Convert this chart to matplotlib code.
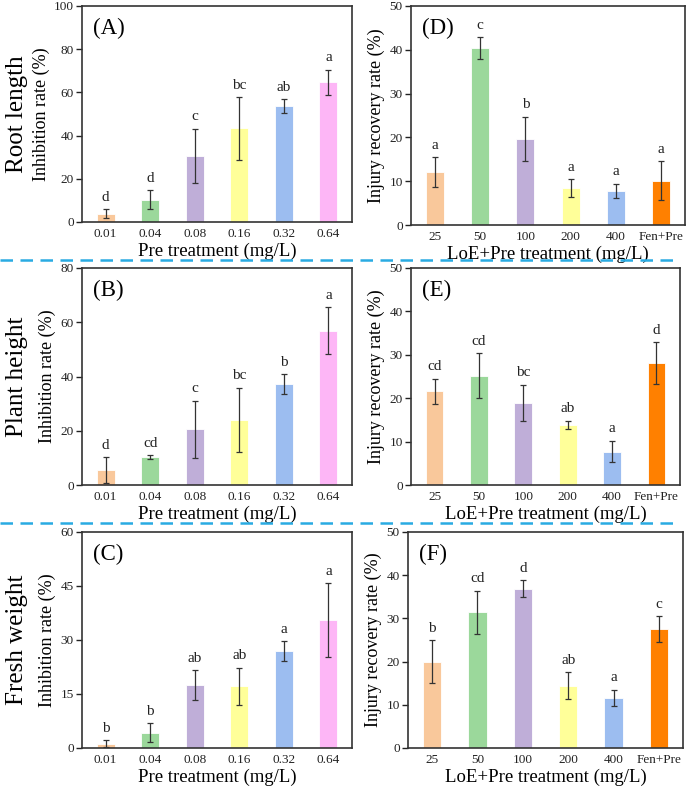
import numpy as np
import matplotlib
matplotlib.use("Agg")
import matplotlib.pyplot as plt
from matplotlib.lines import Line2D

plt.rcParams['font.family'] = ['Liberation Serif', 'DejaVu Serif']

pre_labels = ['0.01', '0.04', '0.08', '0.16', '0.32', '0.64']
loe_labels = ['25', '50', '100', '200', '400', 'Fen+Pre']

# Inhibition rate (left column)
root_mean = [3.9, 10.3, 30.6, 43.3, 53.6, 64.7]
root_err = [2.1, 4.3, 12.6, 14.6, 3.3, 5.8]
root_sig = ['d', 'd', 'c', 'bc', 'ab', 'a']

height_mean = [5.4, 10.2, 20.6, 24.1, 37.2, 56.9]
height_err = [4.8, 0.7, 10.5, 11.8, 3.7, 8.7]
height_sig = ['d', 'cd', 'c', 'bc', 'b', 'a']

weight_mean = [1.2, 4.3, 17.5, 17.1, 26.9, 35.5]
weight_err = [1.0, 2.6, 4.1, 5.2, 2.7, 10.3]
weight_sig = ['b', 'b', 'ab', 'ab', 'a', 'a']

# Injury recovery rate (right column)
rec_root_mean = [12.1, 40.4, 19.6, 8.4, 7.8, 10.1]
rec_root_err = [3.4, 2.5, 5.1, 2.1, 1.6, 4.5]
rec_root_sig = ['a', 'c', 'b', 'a', 'a', 'a']

rec_height_mean = [21.6, 25.2, 18.9, 13.8, 7.7, 28.1]
rec_height_err = [2.9, 5.2, 4.2, 1.0, 2.5, 4.8]
rec_height_sig = ['cd', 'cd', 'bc', 'ab', 'a', 'd']

rec_weight_mean = [20.0, 31.4, 36.9, 14.4, 11.6, 27.5]
rec_weight_err = [5.0, 5.0, 1.9, 3.1, 1.9, 3.0]
rec_weight_sig = ['b', 'cd', 'd', 'ab', 'a', 'c']

colors_pre = ['#F9C89B', '#9BD89B', '#BFAED8', '#FFFF99', '#9CBDF0', '#FDB6F6']
colors_loe = ['#F9C89B', '#9BD89B', '#BFAED8', '#FFFF99', '#9CBDF0', '#FF8000']

W, H = 687, 786
fig = plt.figure(figsize=(W / 100, H / 100), dpi=100)


def make_ax(left, right, top, bottom):
    return fig.add_axes([left / W, 1 - bottom / H, (right - left) / W, (bottom - top) / H])


def draw_panel(ax, labels, mean, err, sig, colors, ymax, step, tag, xlabel, ylabel):
    x = np.arange(len(labels))
    ax.bar(x, mean, width=0.4, color=colors, edgecolor='white', linewidth=0.6,
           yerr=err, ecolor='#333333', capsize=2.5, error_kw={'elinewidth': 0.9, 'capthick': 0.9})
    for xi, m, e, s in zip(x, mean, err, sig):
        ax.annotate(s, (xi, m + e), xytext=(0, 6), textcoords='offset points',
                    ha='center', va='baseline', fontsize=11, color='#222222')
    ax.set_xlim(-0.53, len(labels) - 0.47)
    ax.set_ylim(0, ymax)
    ax.set_yticks(np.arange(0, ymax + 0.1, step))
    ax.set_xticks(x)
    ax.set_xticklabels(labels)
    ax.tick_params(axis='y', direction='out', length=4, width=1, labelsize=9.5, colors='#222222', pad=2)
    ax.tick_params(axis='x', length=0, labelsize=9.5, colors='#222222', pad=4)
    for sp in ax.spines.values():
        sp.set_linewidth(1.2)
        sp.set_color('#333333')
    ax.set_xlabel(xlabel, fontsize=13.5, labelpad=2)
    ax.set_ylabel(ylabel, fontsize=13, labelpad=3)
    ax.text(0.04, 0.945, tag, transform=ax.transAxes, ha='left', va='top', fontsize=16.5)


axA = make_ax(82, 352, 6, 222)
axD = make_ax(411, 685, 6, 225)
axB = make_ax(82, 352, 268, 485)
axE = make_ax(411, 680, 268, 485)
axC = make_ax(82, 352, 532, 748)
axF = make_ax(408, 683, 532, 748)

inh = 'Inhibition rate (%)'
rec = 'Injury recovery rate (%)'
xl_pre = 'Pre treatment (mg/L)'
xl_loe = 'LoE+Pre treatment (mg/L)'

draw_panel(axA, pre_labels, root_mean, root_err, root_sig, colors_pre, 100, 20, '(A)', xl_pre, inh)
draw_panel(axB, pre_labels, height_mean, height_err, height_sig, colors_pre, 80, 20, '(B)', xl_pre, inh)
draw_panel(axC, pre_labels, weight_mean, weight_err, weight_sig, colors_pre, 60, 15, '(C)', xl_pre, inh)
draw_panel(axD, loe_labels, rec_root_mean, rec_root_err, rec_root_sig, colors_loe, 50, 10, '(D)', xl_loe, rec)
draw_panel(axE, loe_labels, rec_height_mean, rec_height_err, rec_height_sig, colors_loe, 50, 10, '(E)', xl_loe, rec)
draw_panel(axF, loe_labels, rec_weight_mean, rec_weight_err, rec_weight_sig, colors_loe, 50, 10, '(F)', xl_loe, rec)

# row titles
for ax, name in [(axA, 'Root length'), (axB, 'Plant height'), (axC, 'Fresh weight')]:
    pos = ax.get_position()
    fig.text(17 / W, pos.y0 + pos.height / 2, name, rotation=90, ha='center', va='center', fontsize=18)

# dashed separators
for yy in [260, 523]:
    fig.add_artist(Line2D([0, 680 / W], [1 - yy / H, 1 - yy / H], color='#29ABE2',
                          linestyle=(0, (5, 3)), linewidth=1.8))

fig.savefig('out.png', dpi=100)
